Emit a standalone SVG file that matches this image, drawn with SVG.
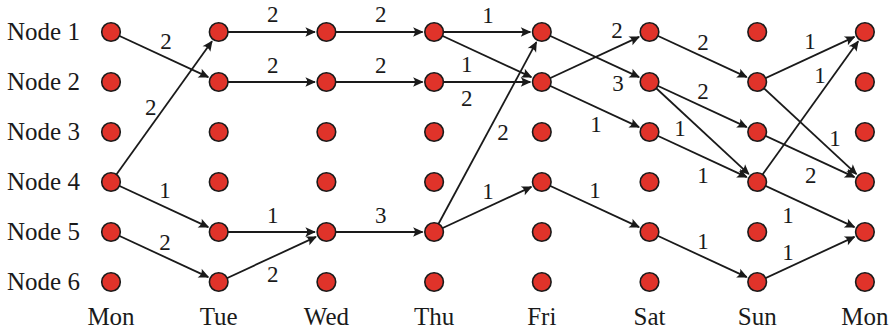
<svg xmlns="http://www.w3.org/2000/svg" width="895" height="332" viewBox="0 0 895 332">
  <style>
    text { font-family: 'Liberation Serif', 'Times New Roman', serif; fill: #1a1a1a; }
    .lbl { font-size: 25px; }
    .day { font-size: 25px; text-anchor: middle; }
    .w { font-size: 23px; text-anchor: middle; }
    .node { fill: #e0332a; stroke: #1a1a1a; stroke-width: 1.6; }
    .edge { stroke: #1a1a1a; stroke-width: 1.8; fill: none; marker-end: url(#tip); }
  </style>
  <defs>
    <marker id="tip" markerUnits="userSpaceOnUse" viewBox="-11 -6 13 12" refX="0" refY="0" markerWidth="13" markerHeight="12" orient="auto">
      <path d="M1,0 L-9.5,-4.8 Q-6,0 -9.5,4.8 Z" fill="#1a1a1a"/>
    </marker>
  </defs>
  <rect width="895" height="332" fill="#ffffff"/>

  <!-- row labels -->
  <g id="row-labels">
    <text class="lbl" x="7" y="39.5">Node 1</text>
    <text class="lbl" x="7" y="89.5">Node 2</text>
    <text class="lbl" x="7" y="139.5">Node 3</text>
    <text class="lbl" x="7" y="189.5">Node 4</text>
    <text class="lbl" x="7" y="239.5">Node 5</text>
    <text class="lbl" x="7" y="289.5">Node 6</text>
  </g>

  <!-- day labels -->
  <g id="day-labels">
    <text class="day" x="111" y="325">Mon</text>
    <text class="day" x="218.7" y="325">Tue</text>
    <text class="day" x="326.4" y="325">Wed</text>
    <text class="day" x="434.1" y="325">Thu</text>
    <text class="day" x="541.8" y="325">Fri</text>
    <text class="day" x="649.5" y="325">Sat</text>
    <text class="day" x="757.2" y="325">Sun</text>
    <text class="day" x="864.9" y="325">Mon</text>
  </g>

  <!-- connectors -->
  <g id="connectors">
    <line class="edge" x1="111" y1="32" x2="208.27" y2="77.16"/>
    <line class="edge" x1="111" y1="182" x2="211.99" y2="41.34"/>
    <line class="edge" x1="111" y1="182" x2="208.27" y2="227.16"/>
    <line class="edge" x1="111" y1="232" x2="208.27" y2="277.16"/>

    <line class="edge" x1="218.7" y1="32" x2="314.9" y2="32"/>
    <line class="edge" x1="218.7" y1="82" x2="314.9" y2="82"/>
    <line class="edge" x1="218.7" y1="232" x2="314.9" y2="232"/>
    <line class="edge" x1="218.7" y1="282" x2="315.97" y2="236.84"/>

    <line class="edge" x1="326.4" y1="32" x2="422.6" y2="32"/>
    <line class="edge" x1="326.4" y1="82" x2="422.6" y2="82"/>
    <line class="edge" x1="326.4" y1="232" x2="422.6" y2="232"/>

    <line class="edge" x1="434.1" y1="32" x2="530.3" y2="32"/>
    <line class="edge" x1="434.1" y1="32" x2="531.37" y2="77.16"/>
    <line class="edge" x1="434.1" y1="82" x2="530.3" y2="82"/>
    <line class="edge" x1="434.1" y1="232" x2="536.35" y2="42.13"/>
    <line class="edge" x1="434.1" y1="232" x2="531.37" y2="186.84"/>

    <line class="edge" x1="541.8" y1="32" x2="639.07" y2="77.16"/>
    <line class="edge" x1="541.8" y1="82" x2="639.07" y2="36.84"/>
    <line class="edge" x1="541.8" y1="82" x2="639.07" y2="127.16"/>
    <line class="edge" x1="541.8" y1="182" x2="639.07" y2="227.16"/>

    <line class="edge" x1="649.5" y1="32" x2="746.77" y2="77.16"/>
    <line class="edge" x1="649.5" y1="82" x2="746.77" y2="127.16"/>
    <line class="edge" x1="649.5" y1="82" x2="748.77" y2="174.18"/>
    <line class="edge" x1="649.5" y1="132" x2="746.77" y2="177.16"/>
    <line class="edge" x1="649.5" y1="232" x2="746.77" y2="277.16"/>

    <line class="edge" x1="757.2" y1="82" x2="854.47" y2="36.84"/>
    <line class="edge" x1="757.2" y1="182" x2="858.19" y2="41.34"/>
    <line class="edge" x1="757.2" y1="82" x2="856.47" y2="174.18"/>
    <line class="edge" x1="757.2" y1="132" x2="854.47" y2="177.16"/>
    <line class="edge" x1="757.2" y1="182" x2="854.47" y2="227.16"/>
    <line class="edge" x1="757.2" y1="282" x2="854.47" y2="236.84"/>
  </g>

  <!-- edge weights -->
  <g id="weights">
    <text class="w" x="166" y="48.5">2</text>
    <text class="w" x="150.7" y="115">2</text>
    <text class="w" x="165" y="198">1</text>
    <text class="w" x="165" y="250">2</text>

    <text class="w" x="272.7" y="22">2</text>
    <text class="w" x="272.7" y="73">2</text>
    <text class="w" x="272.7" y="223">1</text>
    <text class="w" x="272.7" y="281.5">2</text>

    <text class="w" x="380.7" y="22">2</text>
    <text class="w" x="380.7" y="73">2</text>
    <text class="w" x="380.7" y="223">3</text>

    <text class="w" x="488" y="22.5">1</text>
    <text class="w" x="466.7" y="71.5">1</text>
    <text class="w" x="466.7" y="106">2</text>
    <text class="w" x="503" y="140">2</text>
    <text class="w" x="488" y="199">1</text>

    <text class="w" x="617" y="38.3">2</text>
    <text class="w" x="618" y="90.5">3</text>
    <text class="w" x="596" y="131.5">1</text>
    <text class="w" x="595" y="198">1</text>

    <text class="w" x="703" y="50">2</text>
    <text class="w" x="703" y="99.3">2</text>
    <text class="w" x="680" y="135.5">1</text>
    <text class="w" x="703" y="182.7">1</text>
    <text class="w" x="703" y="249">1</text>

    <text class="w" x="810" y="49.3">1</text>
    <text class="w" x="820" y="82.7">1</text>
    <text class="w" x="835" y="146">1</text>
    <text class="w" x="810.7" y="182.7">2</text>
    <text class="w" x="788" y="222.7">1</text>
    <text class="w" x="788" y="260">1</text>
  </g>

  <!-- nodes: one group per day column -->
  <g id="mon">
    <circle class="node" cx="111" cy="32" r="9.3"/><circle class="node" cx="111" cy="82" r="9.3"/><circle class="node" cx="111" cy="132" r="9.3"/>
    <circle class="node" cx="111" cy="182" r="9.3"/><circle class="node" cx="111" cy="232" r="9.3"/><circle class="node" cx="111" cy="282" r="9.3"/>
  </g>
  <g id="tue">
    <circle class="node" cx="218.7" cy="32" r="9.3"/><circle class="node" cx="218.7" cy="82" r="9.3"/><circle class="node" cx="218.7" cy="132" r="9.3"/>
    <circle class="node" cx="218.7" cy="182" r="9.3"/><circle class="node" cx="218.7" cy="232" r="9.3"/><circle class="node" cx="218.7" cy="282" r="9.3"/>
  </g>
  <g id="wed">
    <circle class="node" cx="326.4" cy="32" r="9.3"/><circle class="node" cx="326.4" cy="82" r="9.3"/><circle class="node" cx="326.4" cy="132" r="9.3"/>
    <circle class="node" cx="326.4" cy="182" r="9.3"/><circle class="node" cx="326.4" cy="232" r="9.3"/><circle class="node" cx="326.4" cy="282" r="9.3"/>
  </g>
  <g id="thu">
    <circle class="node" cx="434.1" cy="32" r="9.3"/><circle class="node" cx="434.1" cy="82" r="9.3"/><circle class="node" cx="434.1" cy="132" r="9.3"/>
    <circle class="node" cx="434.1" cy="182" r="9.3"/><circle class="node" cx="434.1" cy="232" r="9.3"/><circle class="node" cx="434.1" cy="282" r="9.3"/>
  </g>
  <g id="fri">
    <circle class="node" cx="541.8" cy="32" r="9.3"/><circle class="node" cx="541.8" cy="82" r="9.3"/><circle class="node" cx="541.8" cy="132" r="9.3"/>
    <circle class="node" cx="541.8" cy="182" r="9.3"/><circle class="node" cx="541.8" cy="232" r="9.3"/><circle class="node" cx="541.8" cy="282" r="9.3"/>
  </g>
  <g id="sat">
    <circle class="node" cx="649.5" cy="32" r="9.3"/><circle class="node" cx="649.5" cy="82" r="9.3"/><circle class="node" cx="649.5" cy="132" r="9.3"/>
    <circle class="node" cx="649.5" cy="182" r="9.3"/><circle class="node" cx="649.5" cy="232" r="9.3"/><circle class="node" cx="649.5" cy="282" r="9.3"/>
  </g>
  <g id="sun">
    <circle class="node" cx="757.2" cy="32" r="9.3"/><circle class="node" cx="757.2" cy="82" r="9.3"/><circle class="node" cx="757.2" cy="132" r="9.3"/>
    <circle class="node" cx="757.2" cy="182" r="9.3"/><circle class="node" cx="757.2" cy="232" r="9.3"/><circle class="node" cx="757.2" cy="282" r="9.3"/>
  </g>
  <g id="mon-next">
    <circle class="node" cx="864.9" cy="32" r="9.3"/><circle class="node" cx="864.9" cy="82" r="9.3"/><circle class="node" cx="864.9" cy="132" r="9.3"/>
    <circle class="node" cx="864.9" cy="182" r="9.3"/><circle class="node" cx="864.9" cy="232" r="9.3"/><circle class="node" cx="864.9" cy="282" r="9.3"/>
  </g>
</svg>
